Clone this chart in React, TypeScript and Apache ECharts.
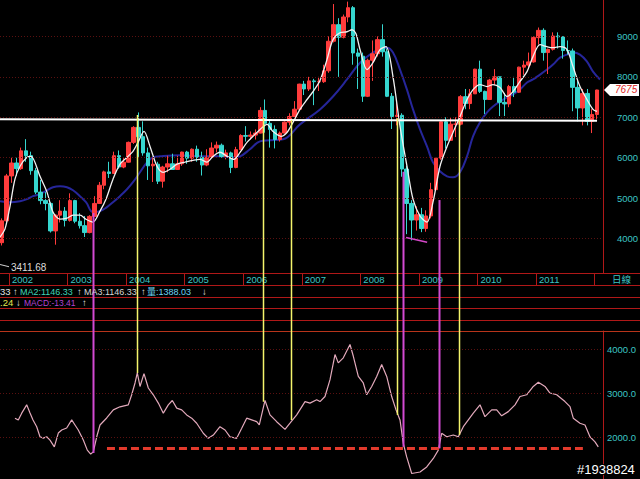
import React, { useEffect, useRef } from "react";
import * as echarts from "echarts";

// ---------- DATA ----------
const startYear = 2001;
const startMonth = 11;

const opens = [
  3900, 4440,
  5550, 5870, 5730, 6170, 6050, 5680, 5150, 4940, 4870, 4190, 4580, 4680,
  4450, 4940, 4430, 4320, 4150, 4550, 4870, 5320, 5650, 5610, 6050, 5770,
  5890, 6380, 6750, 6520, 6120, 5800, 5840, 5420, 5770, 5850, 5710, 5850,
  6140, 5990, 6210, 6010, 5820, 6010, 6240, 6310, 6030, 6120, 5760, 6200,
  6550, 6530, 6560, 6610, 7170, 6850, 6700, 6450, 6610, 6880, 7020, 7200,
  7820, 7700, 7900, 7880, 7880, 8150, 8880, 9290, 8980, 9480, 9710, 8590,
  8510, 7520, 8410, 8570, 8920, 8620, 7520, 7020, 7050, 5720, 4870, 4460,
  4590, 4250, 4560, 5210, 5990, 6890, 6430, 6830, 6830, 7510, 7340, 7580,
  8190, 7640, 7440, 7920, 8000, 7370, 7330, 7760, 7620, 8240, 8290, 8370,
  8970, 9150, 8600, 8680, 9010, 8990, 8650, 8640, 7740, 7230, 7590, 6900,
  7070,
];
const closes = [
  4440, 5550,
  5870, 5730, 6170, 6050, 5680, 5150, 4940, 4870, 4190, 4580, 4680, 4450,
  4940, 4430, 4320, 4150, 4550, 4870, 5320, 5650, 5610, 6050, 5770, 5890,
  6380, 6750, 6520, 6120, 5800, 5840, 5420, 5770, 5850, 5710, 5850, 6140,
  5990, 6210, 6010, 5820, 6010, 6240, 6310, 6030, 6120, 5760, 6200, 6550,
  6530, 6560, 6610, 7170, 6850, 6700, 6450, 6610, 6880, 7020, 7200, 7820,
  7700, 7900, 7880, 7880, 8150, 8880, 9290, 8980, 9480, 9710, 8590, 8510,
  7520, 8410, 8570, 8920, 8620, 7520, 7020, 7050, 5720, 4870, 4460, 4590,
  4250, 4560, 5210, 5990, 6890, 6430, 6830, 6830, 7510, 7340, 7580, 8190,
  7640, 7440, 7920, 8000, 7370, 7330, 7760, 7620, 8240, 8290, 8370, 8970,
  9150, 8600, 8680, 9010, 8990, 8650, 8640, 7740, 7230, 7590, 6900, 7070,
  7675,
];
const lows = [
  3830, 4400,
  5380, 5550, 5700, 5900, 5580, 5100, 4850, 4700, 4150, 3850, 4400, 4300,
  4420, 4380, 4250, 4040, 4130, 4540, 4860, 5220, 5500, 5600, 5730, 5740,
  5880, 6340, 6020, 6050, 5450, 5400, 5350, 5260, 5640, 5700, 5700, 5800,
  5850, 5900, 5900, 5560, 5790, 5990, 6130, 6000, 5960, 5620, 5740, 6200,
  6400, 6450, 6450, 6600, 6620, 6250, 6230, 6400, 6600, 6800, 7000, 7200,
  7550, 7650, 7300, 7650, 7850, 8100, 8850, 8000, 8950, 9350, 8300, 7700,
  7380, 7500, 7900, 8500, 8500, 7500, 6710, 6800, 5530, 4110, 3955, 4200,
  4160, 4170, 4500, 5190, 5950, 6230, 6420, 6510, 6800, 7200, 7200, 7580,
  7600, 7080, 7430, 7800, 7030, 7030, 7250, 7500, 7600, 8050, 8200, 8350,
  8800, 8400, 8070, 8650, 8700, 8450, 8550, 7150, 6900, 6800, 6800, 6610,
  6950,
];
const highs = [
  4500, 5600,
  6000, 6000, 6250, 6460, 6150, 5750, 5450, 5150, 4900, 4600, 4950, 4780,
  5120, 4960, 4630, 4560, 4580, 5050, 5400, 5680, 5900, 6150, 6180, 5990,
  6400, 6780, 7120, 6900, 6250, 6000, 5900, 5800, 6050, 6100, 6050, 6150,
  6170, 6230, 6300, 6150, 6210, 6380, 6400, 6350, 6200, 6150, 6270, 6580,
  6780, 6650, 6700, 7250, 7440, 6950, 6800, 6650, 6900, 7100, 7400, 7830,
  7900, 8000, 7950, 8000, 8300, 9000, 9800, 9450, 9540, 9860, 9750, 8700,
  8600, 8450, 8900, 9000, 9300, 8700, 7600, 7350, 7100, 5800, 4950, 4800,
  4760, 4700, 5380, 6000, 6900, 7000, 7000, 7000, 7550, 7700, 7700, 8200,
  8400, 7660, 7950, 8190, 8000, 7600, 7800, 8000, 8250, 8400, 8600, 9000,
  9220, 9200, 8700, 9100, 9100, 9000, 8900, 8700, 7900, 7700, 7700, 7200,
  7680,
];

// white moving average (decimal year, value)
const whiteT = [
  2001.847, 2001.932, 2002.017, 2002.102, 2002.188, 2002.307, 2002.376, 2002.529, 2002.649, 2002.751,
  2002.871, 2002.99, 2003.093, 2003.212, 2003.315, 2003.434, 2003.554, 2003.656, 2003.776, 2003.895,
  2004.015, 2004.117, 2004.203, 2004.305, 2004.408, 2004.527, 2004.63, 2004.749, 2004.869, 2005.005,
  2005.142, 2005.262, 2005.381, 2005.484, 2005.603, 2005.723, 2005.842, 2005.945, 2006.064, 2006.167,
  2006.287, 2006.406, 2006.508, 2006.645, 2006.747, 2006.85, 2006.969, 2007.089, 2007.191, 2007.311,
  2007.43, 2007.532, 2007.652, 2007.771, 2007.857, 2007.925, 2007.994, 2008.113, 2008.216, 2008.335,
  2008.438, 2008.557, 2008.677, 2008.796, 2008.899, 2009.019, 2009.138, 2009.24, 2009.36, 2009.48,
  2009.582, 2009.702, 2009.821, 2009.924, 2010.043, 2010.163, 2010.265, 2010.385, 2010.504, 2010.607,
  2010.726, 2010.846, 2010.948, 2011.068, 2011.187, 2011.29, 2011.409, 2011.528, 2011.631, 2011.75,
  2011.87, 2011.973, 2012.041,
];
const whiteMA = [
  4040, 4240, 4800, 5470, 5790, 6010, 6035, 5540, 5150, 4655,
  4480, 4505, 4580, 4580, 4480, 4410, 4680, 4975, 5470, 5840,
  6010, 6160, 6380, 6650, 6280, 5790, 5640, 5715, 5840, 5890,
  5935, 5960, 5890, 6035, 6135, 6035, 5960, 6135, 6380, 6530,
  6700, 6825, 6650, 6530, 6625, 6875, 7195, 7440, 7635, 7910,
  8425, 8920, 9090, 9115, 9165, 9065, 8675, 8180, 8350, 8675,
  8745, 8005, 6775, 5790, 4975, 4555, 4410, 4900, 5790, 6280,
  6625, 7020, 7440, 7685, 7810, 7760, 7810, 7735, 7515, 7635,
  7885, 8130, 8500, 8795, 8745, 8720, 8745, 8675, 8255, 7760,
  7440, 7195, 7145,
];

// dark blue long moving average
const blueT = [
  2001.847, 2002.017, 2002.188, 2002.307, 2002.41, 2002.529, 2002.649, 2002.751, 2002.871, 2002.99,
  2003.093, 2003.212, 2003.315, 2003.434, 2003.554, 2003.673, 2003.776, 2003.895, 2004.015, 2004.117,
  2004.237, 2004.357, 2004.459, 2004.579, 2004.92, 2005.262, 2005.603, 2005.825, 2005.945, 2006.115,
  2006.286, 2006.457, 2006.679, 2006.969, 2007.311, 2007.533, 2007.772, 2007.994, 2008.216, 2008.335,
  2008.455, 2008.557, 2008.677, 2008.796, 2008.899, 2009.019, 2009.138, 2009.24, 2009.36, 2009.48,
  2009.582, 2009.702, 2009.821, 2009.924, 2010.043, 2010.163, 2010.265, 2010.385, 2010.504, 2010.607,
  2010.726, 2010.846, 2010.948, 2011.068, 2011.187, 2011.29, 2011.409, 2011.528, 2011.631, 2011.75,
  2011.87, 2011.973, 2012.092,
];
const blueMA = [
  4925, 4900, 4925, 4975, 5050, 5100, 5195, 5270, 5295, 5270,
  5195, 5050, 4900, 4655, 4680, 4780, 4900, 5050, 5220, 5395,
  5640, 5885, 6010, 6035, 6060, 6035, 6035, 6010, 6035, 6210,
  6405, 6430, 6455, 6825, 7195, 7515, 7935, 8350, 8600, 8675,
  8720, 8600, 8180, 7685, 7195, 6700, 6280, 5885, 5665, 5540,
  5515, 5640, 6035, 6530, 6875, 7120, 7265, 7390, 7490, 7565,
  7685, 7860, 7935, 8055, 8180, 8305, 8475, 8550, 8600, 8550,
  8375, 8130, 7935,
];

// lower panel indicator
const lowerT = [
  2002.102, 2002.159, 2002.217, 2002.302, 2002.359, 2002.41, 2002.473, 2002.529, 2002.586, 2002.644,
  2002.7, 2002.774, 2002.842, 2002.9, 2002.985, 2003.071, 2003.127, 2003.183, 2003.269, 2003.337,
  2003.395, 2003.44, 2003.498, 2003.554, 2003.668, 2003.781, 2003.895, 2004.037, 2004.095, 2004.152,
  2004.191, 2004.237, 2004.305, 2004.379, 2004.464, 2004.55, 2004.635, 2004.72, 2004.789, 2004.864,
  2004.949, 2005.034, 2005.12, 2005.205, 2005.318, 2005.403, 2005.489, 2005.603, 2005.689, 2005.774,
  2005.888, 2005.974, 2006.059, 2006.144, 2006.23, 2006.274, 2006.372, 2006.457, 2006.571, 2006.713,
  2006.798, 2006.913, 2007.055, 2007.14, 2007.254, 2007.311, 2007.396, 2007.482, 2007.567, 2007.623,
  2007.709, 2007.823, 2007.88, 2007.965, 2008.05, 2008.108, 2008.194, 2008.279, 2008.364, 2008.45,
  2008.535, 2008.609, 2008.677, 2008.733, 2008.791, 2008.877, 2009.019, 2009.133, 2009.246, 2009.331,
  2009.389, 2009.475, 2009.587, 2009.673, 2009.758, 2009.929, 2010.043, 2010.128, 2010.243, 2010.328,
  2010.413, 2010.526, 2010.641, 2010.726, 2010.84, 2010.953, 2011.039, 2011.153, 2011.238, 2011.353,
  2011.494, 2011.58, 2011.636, 2011.75, 2011.836, 2011.921, 2012.007, 2012.063,
];
const lowerV = [
  2430, 2390, 2545, 2735, 2550, 2390, 2235, 2005, 1975, 2005,
  1930, 1775, 2090, 2160, 2205, 2390, 2275, 2160, 1930, 1700,
  1610, 1660, 2005, 2275, 2435, 2620, 2690, 2735, 2965, 3235,
  3465, 3155, 3450, 3120, 2965, 2775, 2545, 2735, 2835, 2660,
  2620, 2505, 2430, 2315, 2085, 1970, 2045, 2235, 2160, 2005,
  1970, 2200, 2430, 2390, 2350, 2275, 2835, 2505, 2350, 2175,
  2315, 2505, 2810, 2775, 2850, 2810, 2925, 3310, 3885, 3695,
  3810, 4115, 3845, 3385, 3235, 2965, 3155, 3385, 3655, 3385,
  2925, 2620, 2390, 1855, 1545, 1165, 1200, 1315, 1510, 1700,
  2085, 2005, 2045, 2005, 2235, 2545, 2735, 2465, 2620, 2620,
  2485, 2580, 2735, 2925, 2965, 3155, 3250, 3155, 3005, 2965,
  2810, 2695, 2430, 2315, 2275, 2005, 1890, 1775,
];

// ticks / labels
const priceTicks = [4000, 5000, 6000, 7000, 8000, 9000];
const lowerTicks = [2000, 3000, 4000];
const yearTicks = [2002, 2003, 2004, 2005, 2006, 2007, 2008, 2009, 2010, 2011, 2012];
const yearLabels = [2002, 2003, 2004, 2005, 2006, 2007, 2008, 2009, 2010, 2011];

// annotations
const supportLine = [6950, 6915]; // white horizontal line (left, right)
const lowLabel = "3411.68";
const lowMarkT = [2001.847, 2002.0];
const lowMarkV = [3360, 3305];
const crashMarkT = [2008.78, 2009.14];
const crashMarkV = [4030, 3910];
const dashLevel = 1740;
const dashT = [2003.673, 2011.8];
const markT = [2003.429, 2004.181, 2006.332, 2006.81, 2008.631, 2008.733, 2009.343, 2009.69];
const markTop = [4633, 7056, 6982, 6933, 6975, 5654, 4954, 6933];
const markBottom = [1634, 3463, 2807, 2389, 2503, 1778, 1742, 2046];
const markKind = ["m", "y", "y", "y", "y", "m", "m", "y"];

// ---------- helpers ----------
const X_MIN = 2001.8463;
const X_MAX = 2012.1435;
const months = closes.map((_, i) => {
  const m = startMonth - 1 + i;
  return `${startYear + Math.floor(m / 12)}-${String((m % 12) + 1).padStart(2, "0")}`;
});
const monthToYear = (s: string) => {
  const [y, m] = s.split("-").map(Number);
  return y + (m - 0.5) / 12;
};
const pairs = (ts: number[], vs: number[]) =>
  ts.slice(0, Math.min(ts.length, vs.length)).map((t, i) => [t, vs[i]]);

const FONT = '"Liberation Sans", "Noto Sans CJK TC", sans-serif';
const TEAL = "#3cc4c4";
const RED = "#b01818";
const GRIDC = "#5a1010";

export default function App() {
  const ref = useRef<HTMLDivElement>(null);

  useEffect(() => {
    if (!ref.current) return;
    const chart = echarts.init(ref.current, null, { renderer: "svg", width: 640, height: 479 });

    const candleData = months.map((m, i) => [monthToYear(m), opens[i], closes[i], lows[i], highs[i]]);

    const option: any = {
      animation: false,
      backgroundColor: "#000000",
      grid: [
        { left: 0, top: 0, width: 603, height: 273, outerBoundsMode: "none" },
        { left: 0, top: 273, width: 603, height: 12, outerBoundsMode: "none" },
        { left: 0, top: 331, width: 603, height: 148, outerBoundsMode: "none" },
      ],
      xAxis: [
        { gridIndex: 0, type: "value", min: X_MIN, max: X_MAX, show: false },
        {
          gridIndex: 1,
          type: "value",
          min: X_MIN,
          max: X_MAX,
          position: "bottom",
          axisLine: { show: false },
          splitLine: { show: false },
          axisTick: {
            show: true,
            inside: true,
            length: 12,
            customValues: yearTicks,
            lineStyle: { color: RED, width: 1 },
          },
          axisLabel: {
            show: true,
            inside: true,
            customValues: yearLabels,
            formatter: (v: number) => String(v),
            color: TEAL,
            fontSize: 9.5,
            fontFamily: FONT,
            margin: 6,
            verticalAlign: "middle",
            align: "left",
            padding: [0, 0, 0, 3],
          },
        },
        { gridIndex: 2, type: "value", min: X_MIN, max: X_MAX, show: false },
      ],
      yAxis: [
        {
          gridIndex: 0,
          type: "value",
          position: "right",
          min: 3150,
          max: 9900,
          axisLine: { show: true, lineStyle: { color: RED, width: 1 } },
          axisTick: { show: false },
          splitLine: { show: false },
          axisLabel: {
            customValues: priceTicks,
            formatter: (v: number) => String(v),
            color: TEAL,
            fontSize: 9.5,
            fontFamily: FONT,
            margin: 14,
          },
        },
        { gridIndex: 1, type: "value", show: false, min: 0, max: 1 },
        {
          gridIndex: 2,
          type: "value",
          position: "right",
          min: 1040,
          max: 4423,
          axisLine: { show: true, lineStyle: { color: RED, width: 1 } },
          axisTick: { show: false },
          splitLine: { show: false },
          axisLabel: {
            customValues: lowerTicks,
            formatter: (v: number) => v.toFixed(1),
            color: TEAL,
            fontSize: 9.5,
            fontFamily: FONT,
            margin: 4,
          },
        },
      ],
      series: [
        {
          type: "line",
          name: "grid-main",
          xAxisIndex: 0,
          yAxisIndex: 0,
          data: [],
          z: 0,
          markLine: {
            silent: true,
            symbol: ["none", "none"],
            label: { show: false },
            lineStyle: { color: GRIDC, type: [1, 2], width: 1 },
            data: priceTicks.map((v) => ({ yAxis: v })),
          },
        },
        {
          type: "line",
          name: "grid-lower",
          xAxisIndex: 2,
          yAxisIndex: 2,
          data: [],
          z: 0,
          markLine: {
            silent: true,
            symbol: ["none", "none"],
            label: { show: false },
            lineStyle: { color: GRIDC, type: [1, 2], width: 1 },
            data: lowerTicks.map((v) => ({ yAxis: v })),
          },
        },
        {
          type: "line",
          name: "MA long",
          xAxisIndex: 0,
          yAxisIndex: 0,
          data: pairs(blueT, blueMA),
          showSymbol: false,
          smooth: 0.4,
          lineStyle: { color: "#26269a", width: 2 },
          z: 1,
        },
        {
          type: "candlestick",
          name: "price",
          xAxisIndex: 0,
          yAxisIndex: 0,
          data: candleData,
          encode: { x: 0, y: [1, 2, 3, 4] },
          barWidth: 4,
          itemStyle: {
            color: "#ff3c3c",
            color0: "#36d6cf",
            borderColor: "#ff3c3c",
            borderColor0: "#36d6cf",
            borderWidth: 1,
          },
          z: 2,
          markLine: {
            silent: true,
            symbol: ["none", "none"],
            label: { show: false },
            data: [
              [
                { coord: [X_MIN + 0.0005, supportLine[0]], lineStyle: { color: "#ffffff", width: 2, type: "solid" } },
                { coord: [monthToYear(months[months.length - 1]), supportLine[1]] },
              ],
              [
                {
                  coord: [lowMarkT[0], lowMarkV[0]],
                  lineStyle: { color: "#d0d0d0", width: 1, type: "solid" },
                  label: {
                    show: true,
                    position: "end",
                    formatter: lowLabel,
                    color: "#dcdcdc",
                    fontSize: 10,
                    fontFamily: FONT,
                    distance: 2,
                  },
                },
                { coord: [lowMarkT[1], lowMarkV[1]] },
              ],
              [
                { coord: [crashMarkT[0], crashMarkV[0]], lineStyle: { color: "#d448c8", width: 1.5, type: "solid" } },
                { coord: [crashMarkT[1], crashMarkV[1]] },
              ],
            ],
          },
        },
        {
          type: "line",
          name: "MA short",
          xAxisIndex: 0,
          yAxisIndex: 0,
          data: pairs(whiteT, whiteMA),
          showSymbol: false,
          smooth: 0.3,
          lineStyle: { color: "#f2f2f2", width: 1.3 },
          z: 3,
        },
        {
          type: "line",
          name: "indicator",
          xAxisIndex: 2,
          yAxisIndex: 2,
          data: pairs(lowerT, lowerV),
          showSymbol: false,
          lineStyle: { color: "#e2a9bb", width: 1.2 },
          z: 3,
          markLine: {
            silent: true,
            symbol: ["none", "none"],
            label: { show: false },
            data: [
              [
                { coord: [dashT[0], dashLevel], lineStyle: { color: "#e23a2c", width: 3, type: [8, 4] } },
                { coord: [dashT[1], dashLevel] },
              ],
            ],
          },
        },
      ],
    };

    chart.setOption(option);

    const px = (t: number) => chart.convertToPixel({ xAxisIndex: 0 }, t) as number;
    const pyMain = (v: number) => chart.convertToPixel({ yAxisIndex: 0 }, v) as number;
    const pyLow = (v: number) => chart.convertToPixel({ yAxisIndex: 2 }, v) as number;

    const txt = (x: number, y: number, text: string, fill: string, extra: any = {}) => ({
      type: "text",
      x,
      y,
      z: 100,
      silent: true,
      style: {
        text,
        fill,
        font: `9.5px ${FONT}`,
        verticalAlign: "middle",
        align: "left",
        ...extra,
      },
    });
    const hline = (y: number, color: string) => ({
      type: "line",
      z: 50,
      silent: true,
      shape: { x1: 0, y1: y, x2: 640, y2: y },
      style: { stroke: color, lineWidth: 1 },
    });

    const graphics: any[] = [];
    [273.5, 285.5, 297.5, 308.5, 320.5].forEach((y) => graphics.push(hline(y, RED)));
    graphics.push(hline(331.5, "#b8341a"));

    markT.forEach((t, i) => {
      const x = Math.round(px(t)) + 0.5;
      graphics.push({
        type: "line",
        z: 90,
        silent: true,
        shape: { x1: x, y1: pyMain(markTop[i]), x2: x, y2: pyLow(markBottom[i]) },
        style: { stroke: markKind[i] === "y" ? "#f4f46c" : "#d24ad2", lineWidth: markKind[i] === "y" ? 1.5 : 2 },
      });
    });

    // row texts
    const W = "#e6e6e6";
    graphics.push(txt(0, 291.5, "33", W));
    graphics.push(txt(13, 291.5, "↑", W));
    graphics.push(txt(20, 291.5, "MA2:1146.33", "#3ed6b6", { font: `9px ${FONT}` }));
    graphics.push(txt(77, 291.5, "↑", W));
    graphics.push(txt(84, 291.5, "MA3:1146.33", "#d6d6d6", { font: `9px ${FONT}` }));
    graphics.push(txt(141, 291.5, "↑", W));
    graphics.push(txt(147, 291.5, "量:1388.03", "#6cd6f6", { font: `9px ${FONT}` }));
    graphics.push(txt(202, 291.5, "↓", W));

    graphics.push(txt(0, 302.5, ".24", "#e6e650"));
    graphics.push(txt(16, 302.5, "↓", W));
    graphics.push(txt(24, 302.5, "MACD:-13.41", "#b244d2", { font: `8.5px ${FONT}` }));
    graphics.push(txt(82, 302.5, "↑", W));

    graphics.push(txt(612, 279.5, "日線", TEAL));

    // last price tag
    const last = closes[closes.length - 1];
    const yc = pyMain(last);
    graphics.push({
      type: "polygon",
      z: 100,
      silent: true,
      shape: { points: [[604, yc], [610, yc - 6], [639, yc - 6], [639, yc + 6], [610, yc + 6]] },
      style: { fill: "#ffffff" },
    });
    graphics.push(txt(615, yc, String(last), "#e02222", { font: `italic 10px ${FONT}` }));

    // watermark
    graphics.push(
      txt(577, 469, "#1938824", "#ffffff", { font: `13px ${FONT}`, stroke: "#000000", lineWidth: 2 })
    );

    chart.setOption({ graphic: graphics });

    return () => {
      chart.dispose();
    };
  }, []);

  return (
    <div
      ref={ref}
      style={{ position: "absolute", left: 0, top: 0, width: 640, height: 479, background: "#000" }}
    />
  );
}
